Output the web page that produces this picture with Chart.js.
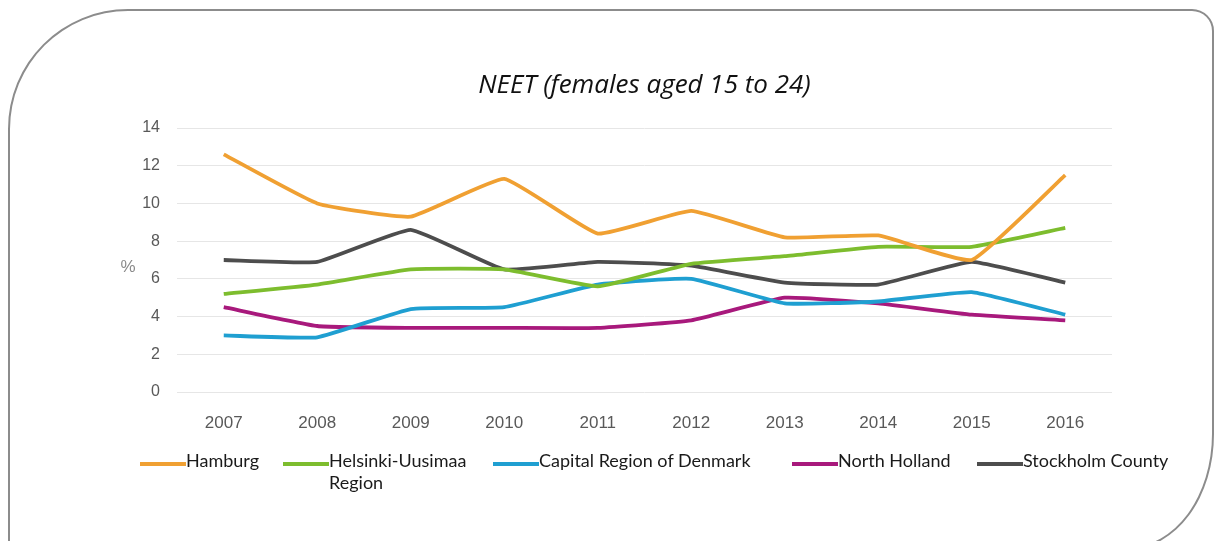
<!DOCTYPE html>
<html>
<head>
<meta charset="utf-8">
<script src="https://cdn.jsdelivr.net/npm/chart.js@4.4.1/dist/chart.umd.min.js"></script>
<style>
  html, body { margin: 0; padding: 0; background: #fff; }
  #wrap { position: relative; width: 1217px; height: 541px; overflow: hidden; }
  #frame {
    position: absolute; left: 8px; top: 9px; width: 1206px; height: 540px;
    border: 2px solid #8c8c8c;
    border-radius: 120px 22px 85px 0 / 120px 22px 115px 0;
    box-sizing: border-box;
  }
  #myChart { position: absolute; left: 0; top: 0; }
  #legend { position: absolute; left: 0; top: 0; font-family: Lato, "Open Sans", sans-serif; font-size: 18px; color: #1a1a1a; }
  .item { position: absolute; top: 449px; line-height: 22px; }
  .swatch { position: absolute; left: 0; top: 13px; width: 46px; height: 4px; }
  .txt { position: absolute; left: 46px; top: 0; white-space: normal; }
</style>
</head>
<body>
<div id="wrap">
  <div id="frame"></div>
  <canvas id="myChart" width="1217" height="541"></canvas>
  <div id="legend"></div>
</div>
<script>
const years = ['2007', '2008', '2009', '2010', '2011', '2012', '2013', '2014', '2015', '2016']
const hamburg = [12.6, 10.0, 9.3, 11.3, 8.4, 9.6, 8.2, 8.3, 7.0, 11.5]
const helsinki = [5.2, 5.7, 6.5, 6.5, 5.6, 6.8, 7.2, 7.7, 7.7, 8.7]
const capital = [3.0, 2.9, 4.4, 4.5, 5.7, 6.0, 4.7, 4.8, 5.3, 4.1]
const northHolland = [4.5, 3.5, 3.4, 3.4, 3.4, 3.8, 5.0, 4.7, 4.1, 3.8]
const stockholm = [7.0, 6.9, 8.6, 6.5, 6.9, 6.7, 5.8, 5.7, 6.9, 5.8]
const names = ["Hamburg", "Helsinki-Uusimaa Region", "Capital Region of Denmark", "North Holland", "Stockholm County"]
const colors = ["#f0a032", "#7dbd2e", "#1f9fd1", "#a8197c", "#4d4d4d"]
const yTicks = [0, 2, 4, 6, 8, 10, 12, 14]

// legend layout (left edge of each item, text width)
const legendLeft = [140, 283, 493, 792, 977]
const legendWidth = [140, 150, 260, 160, 200]

// title and "%" drawn on the canvas
const extraText = {
    id: "extraText",
    afterDraw(chart) {
        const ctx = chart.ctx
        const a = chart.chartArea
        ctx.save()
        ctx.fillStyle = "#111"
        ctx.font = "italic 26px 'Open Sans'"
        ctx.textAlign = "center"
        ctx.textBaseline = "middle"
        ctx.fillText("NEET (females aged 15 to 24)", (a.left + a.right) / 2, 86)
        ctx.fillStyle = "#8a8a8a"
        ctx.font = "17px 'Liberation Sans'"
        ctx.fillText("%", a.left - 49, 267)
        ctx.restore()
    }
}

const series = [hamburg, helsinki, capital, northHolland, stockholm]

const chart = new Chart("myChart", {
    type: "line",
    data: {
        labels: years,
        datasets: series.map((d, i) => ({
            label: names[i],
            data: d,
            borderColor: colors[i],
            backgroundColor: colors[i],
            borderWidth: 3.8,
            pointRadius: 0,
            tension: 0.12,
            fill: false
        }))
    },
    options: {
        responsive: false,
        animation: false,
        layout: { padding: { left: 100, right: 105, top: 128, bottom: 109 } },
        plugins: {
            legend: { display: false },
            title: { display: false },
            tooltip: { enabled: false }
        },
        scales: {
            x: {
                offset: true,
                grid: { display: false },
                border: { display: false },
                ticks: { color: "#595959", font: { family: "Liberation Sans", size: 17 }, padding: 13, maxRotation: 0 },
                afterFit(s) { s.height = 40 }
            },
            y: {
                min: 0,
                max: 14,
                afterBuildTicks(s) { s.ticks = yTicks.map(v => ({ value: v })) },
                grid: { color: "#e6e6e6", lineWidth: 1, drawTicks: false },
                border: { display: false },
                ticks: { color: "#595959", font: { family: "Liberation Sans", size: 16 }, padding: 17 },
                afterFit(s) { s.width = 77 }
            }
        }
    },
    plugins: [extraText]
})

// html legend built from the datasets
const legend = document.getElementById("legend")
chart.data.datasets.forEach((ds, i) => {
    const item = document.createElement("div")
    item.className = "item"
    item.style.left = legendLeft[i] + "px"
    item.innerHTML = '<span class="swatch" style="background:' + ds.borderColor + '"></span>' +
        '<span class="txt" style="width:' + legendWidth[i] + 'px">' + ds.label + '</span>'
    legend.appendChild(item)
})
</script>
</body>
</html>
